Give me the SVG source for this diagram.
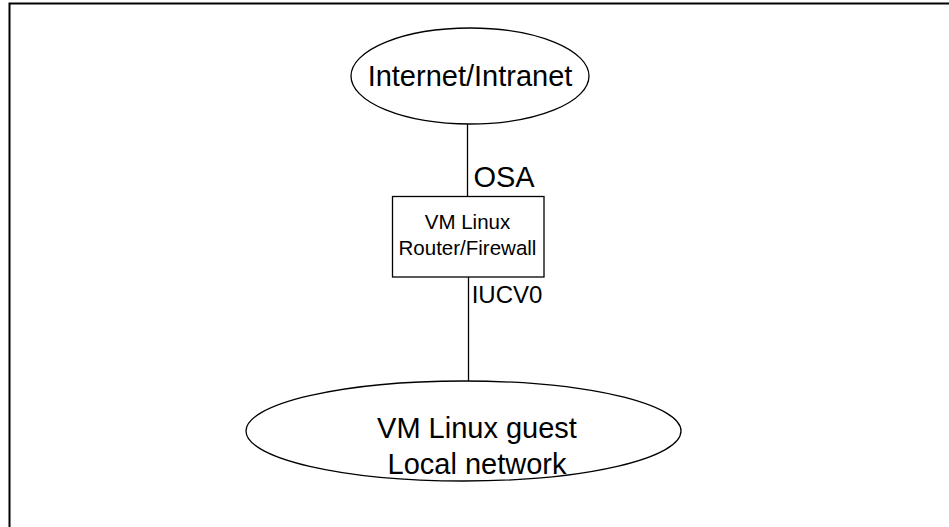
<svg xmlns="http://www.w3.org/2000/svg" width="949" height="527" viewBox="0 0 949 527">
<style>
.s{fill:none;stroke:#000;stroke-width:1.3}
.f{fill:#fff;stroke:#000;stroke-width:1.3}
text{font-family:"Liberation Sans",Arial,sans-serif;fill:#000;text-anchor:middle}
.big{font-size:29px}
.mid{font-size:24px}
.sm{font-size:20.5px}
</style>
<rect width="949" height="527" fill="#fff"/>
<path d="M9.5 527 V3.5 H949" fill="none" stroke="#000" stroke-width="2"/>
<g id="connectors">
<line class="s" x1="467.5" y1="124" x2="467.5" y2="196"/>
<line class="s" x1="468.5" y1="277" x2="468.5" y2="381"/>
</g>
<g id="internet">
<ellipse class="f" cx="470" cy="76" rx="119" ry="48"/>
<text class="big" x="470" y="86">Internet/Intranet</text>
</g>
<g id="osa-label">
<text class="big" x="504" y="187">OSA</text>
</g>
<g id="router">
<rect class="f" x="392.5" y="196.5" width="151.5" height="80.5"/>
<text class="sm" x="467.5" y="229">VM Linux</text>
<text class="sm" x="467.5" y="255">Router/Firewall</text>
</g>
<g id="iucv-label">
<text class="mid" x="507" y="303">IUCV0</text>
</g>
<g id="guest">
<ellipse class="f" cx="463.5" cy="431" rx="217.5" ry="50"/>
<text class="big" x="477" y="438">VM Linux guest</text>
<text class="big" x="477" y="474">Local network</text>
</g>
</svg>
